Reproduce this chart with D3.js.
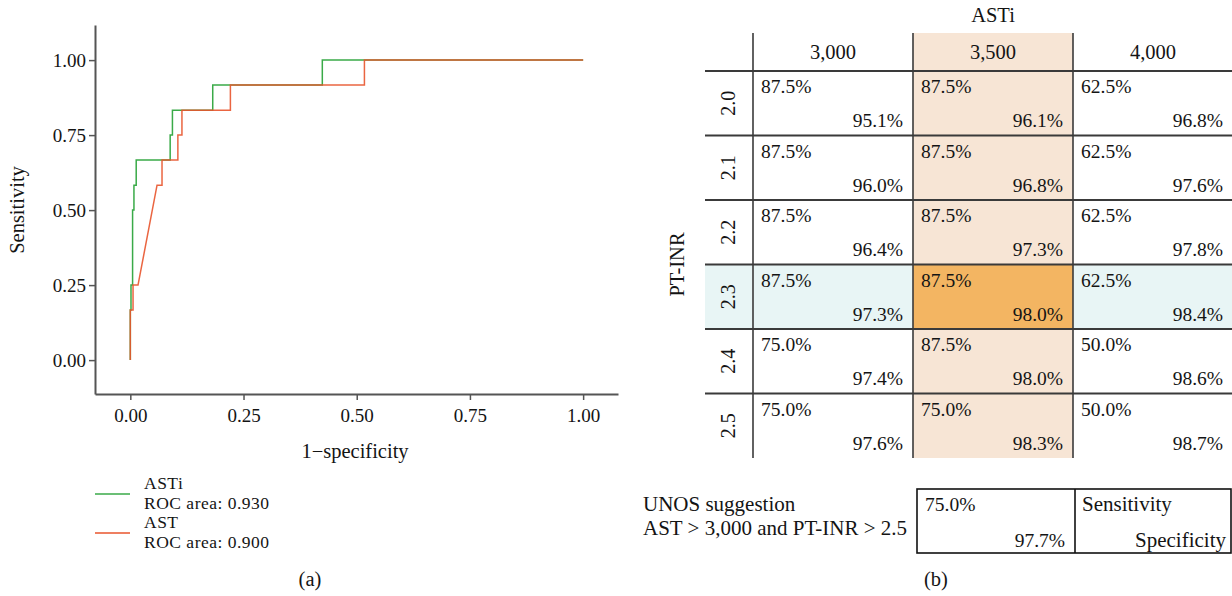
<!DOCTYPE html>
<html>
<head>
<meta charset="utf-8">
<script src="https://cdn.jsdelivr.net/npm/d3@7"></script>
<style>
  body { margin: 0; background: #fff; }
  svg { display: block; font-family: "Liberation Serif", "DejaVu Serif", serif; }
</style>
</head>
<body>
<svg id="chart" width="1232" height="596"></svg>
<script>
// (a) ROC curves
const astiFpr = [0, 0, 0.0015, 0.0015, 0.005, 0.005, 0.008, 0.008, 0.013, 0.013, 0.088, 0.088, 0.093, 0.093, 0.182, 0.182, 0.424, 0.424, 1.0];
const astiTpr = [0, 0.1667, 0.1667, 0.25, 0.25, 0.5, 0.5, 0.583, 0.583, 0.667, 0.667, 0.75, 0.75, 0.833, 0.833, 0.917, 0.917, 1, 1];
const astFpr = [0, 0, 0.006, 0.006, 0.017, 0.059, 0.07, 0.07, 0.105, 0.105, 0.114, 0.114, 0.221, 0.221, 0.517, 0.517, 1.0];
const astTpr = [0, 0.1667, 0.1667, 0.25, 0.25, 0.583, 0.583, 0.667, 0.667, 0.75, 0.75, 0.833, 0.833, 0.917, 0.917, 1, 1];
const axisTicks = [0, 0.25, 0.5, 0.75, 1];
const legendNames = ["ASTi", "AST"];
const legendAreas = ["ROC area: 0.930", "ROC area: 0.900"];

// (b) threshold table
const astiCols = ["3,000", "3,500", "4,000"];
const inrRows = ["2.0", "2.1", "2.2", "2.3", "2.4", "2.5"];
const sensitivity = [
  [87.5, 87.5, 62.5],
  [87.5, 87.5, 62.5],
  [87.5, 87.5, 62.5],
  [87.5, 87.5, 62.5],
  [75.0, 87.5, 50.0],
  [75.0, 75.0, 50.0]
];
const specificity = [
  [95.1, 96.1, 96.8],
  [96.0, 96.8, 97.6],
  [96.4, 97.3, 97.8],
  [97.3, 98.0, 98.4],
  [97.4, 98.0, 98.6],
  [97.6, 98.3, 98.7]
];
const bestCol = "3,500";
const bestRow = "2.3";
const unosSens = 75.0;
const unosSpec = 97.7;

const svg = d3.select('#chart');
const green = '#3aaa48';
const red = '#e8542c';
const lineDark = '#3a3a3a';
const ink = '#141414';

// ---------- panel (a) ----------
const x = d3.scaleLinear().domain([-0.078, 1.077]).range([95, 618]);
const y = d3.scaleLinear().domain([-0.113, 1.117]).range([394, 25]);

const gx = svg.append('g')
  .attr('transform', 'translate(0,394)')
  .call(d3.axisBottom(x).tickValues(axisTicks).tickFormat(d3.format('.2f')).tickSize(6).tickSizeOuter(0));
const gy = svg.append('g')
  .attr('transform', 'translate(95,0)')
  .call(d3.axisLeft(y).tickValues(axisTicks).tickFormat(d3.format('.2f')).tickSize(6).tickSizeOuter(0));

[gx, gy].forEach(g => {
  g.select('.domain').attr('stroke', '#555').attr('stroke-width', 2);
  g.selectAll('.tick line').attr('stroke', '#555').attr('stroke-width', 1.5);
  g.selectAll('.tick text')
    .attr('fill', ink)
    .style('font-family', '"Liberation Serif", serif')
    .style('font-size', '19px');
});
gx.selectAll('.tick text').attr('dy', '1.0em');
gy.selectAll('.tick text').attr('x', -9);

const line = d3.line().x(d => x(d[0])).y(d => y(d[1]));
const astiPts = astiFpr.map((f, i) => [f, astiTpr[i]]);
const astPts = astFpr.map((f, i) => [f, astTpr[i]]);

svg.append('path')
  .attr('d', line(astiPts))
  .attr('fill', 'none')
  .attr('stroke', green)
  .attr('stroke-width', 1.5);
svg.append('path')
  .attr('d', line(astPts))
  .attr('fill', 'none')
  .attr('stroke', red)
  .attr('stroke-opacity', 0.9)
  .attr('stroke-width', 1.5);

svg.append('text')
  .attr('x', 355).attr('y', 458)
  .attr('text-anchor', 'middle')
  .style('font-size', '20.5px')
  .attr('fill', ink)
  .text('1\u2212specificity');
svg.append('text')
  .attr('transform', 'translate(24,210) rotate(-90)')
  .attr('text-anchor', 'middle')
  .style('font-size', '20.5px')
  .attr('fill', ink)
  .text('Sensitivity');

// legend: tight leading like the original
const legendColors = [green, red];
const legendStep = 19.5;
legendNames.forEach((name, i) => {
  const base = 489 + i * 2 * legendStep;
  svg.append('line')
    .attr('x1', 95).attr('x2', 130)
    .attr('y1', base + 5).attr('y2', base + 5)
    .attr('stroke', legendColors[i]).attr('stroke-width', 1.5);
  svg.append('text').attr('x', 144).attr('y', base)
    .style('font-size', '17.5px').style('letter-spacing', '0.5px')
    .attr('fill', ink).text(name);
  svg.append('text').attr('x', 144).attr('y', base + legendStep)
    .style('font-size', '17.5px').style('letter-spacing', '0.5px')
    .attr('fill', ink).text(legendAreas[i]);
});

svg.append('text')
  .attr('x', 310).attr('y', 586)
  .attr('text-anchor', 'middle')
  .style('font-size', '20.5px')
  .attr('fill', ink)
  .text('(a)');

// ---------- panel (b) ----------
const colX = d3.scaleBand().domain(astiCols).range([753, 1233]);
const rowY = d3.scaleBand().domain(inrRows).range([71, 458]);
const tableLeft = 705;
const tableRight = 1232;
const headTop = 33;

// highlighted column and row
svg.append('rect')
  .attr('x', colX(bestCol)).attr('y', headTop)
  .attr('width', colX.bandwidth()).attr('height', 458 - headTop)
  .attr('fill', '#f7e5d5');
svg.append('rect')
  .attr('x', tableLeft).attr('y', rowY(bestRow))
  .attr('width', tableRight - tableLeft).attr('height', rowY.bandwidth())
  .attr('fill', '#e8f5f5');
svg.append('rect')
  .attr('x', colX(bestCol)).attr('y', rowY(bestRow))
  .attr('width', colX.bandwidth()).attr('height', rowY.bandwidth())
  .attr('fill', '#f3b562');

// grid lines
inrRows.forEach(r => {
  svg.append('line')
    .attr('x1', tableLeft).attr('x2', tableRight)
    .attr('y1', rowY(r)).attr('y2', rowY(r))
    .attr('stroke', lineDark).attr('stroke-width', 2);
});
astiCols.forEach(c => {
  svg.append('line')
    .attr('x1', colX(c)).attr('x2', colX(c))
    .attr('y1', headTop).attr('y2', 458)
    .attr('stroke', lineDark).attr('stroke-width', 1.6);
});

// headers
svg.append('text')
  .attr('x', colX(bestCol) + colX.bandwidth() / 2).attr('y', 22)
  .attr('text-anchor', 'middle').style('font-size', '20.5px').attr('fill', ink)
  .text('ASTi');
astiCols.forEach(c => {
  svg.append('text')
    .attr('x', colX(c) + colX.bandwidth() / 2).attr('y', 59)
    .attr('text-anchor', 'middle').style('font-size', '20.5px').attr('fill', ink)
    .text(c);
});
inrRows.forEach(r => {
  const cy = rowY(r) + rowY.bandwidth() / 2;
  svg.append('text')
    .attr('transform', `translate(735,${cy}) rotate(-90)`)
    .attr('text-anchor', 'middle').style('font-size', '20px').attr('fill', ink)
    .text(r);
});
svg.append('text')
  .attr('transform', `translate(684,${(71 + 458) / 2}) rotate(-90)`)
  .attr('text-anchor', 'middle').style('font-size', '20.5px').attr('fill', ink)
  .text('PT-INR');

// cells
const pct = d3.format('.1f');
inrRows.forEach((r, i) => {
  astiCols.forEach((c, j) => {
    svg.append('text')
      .attr('x', colX(c) + 8).attr('y', rowY(r) + 22)
      .style('font-size', '19.5px').attr('fill', ink)
      .text(pct(sensitivity[i][j]) + '%');
    svg.append('text')
      .attr('x', colX(c) + colX.bandwidth() - 10).attr('y', rowY(r) + 56)
      .attr('text-anchor', 'end')
      .style('font-size', '19.5px').attr('fill', ink)
      .text(pct(specificity[i][j]) + '%');
  });
});

// UNOS box
const boxL = 917, boxM = 1075, boxR = 1231, boxT = 489, boxB = 553;
svg.append('rect')
  .attr('x', boxL).attr('y', boxT)
  .attr('width', boxR - boxL).attr('height', boxB - boxT)
  .attr('fill', 'none').attr('stroke', '#111').attr('stroke-width', 1.6);
svg.append('line')
  .attr('x1', boxM).attr('x2', boxM).attr('y1', boxT).attr('y2', boxB)
  .attr('stroke', '#111').attr('stroke-width', 1.6);
const unosText = svg.append('text').attr('x', 643).attr('y', 511).style('font-size', '21px').attr('fill', ink);
unosText.append('tspan').attr('x', 643).text('UNOS suggestion');
unosText.append('tspan').attr('x', 643).attr('dy', 24).text('AST > 3,000 and PT-INR > 2.5');
svg.append('text').attr('x', boxL + 8).attr('y', 511).style('font-size', '19.5px').attr('fill', ink).text(pct(unosSens) + '%');
svg.append('text').attr('x', boxM - 10).attr('y', 547).attr('text-anchor', 'end').style('font-size', '19.5px').attr('fill', ink).text(pct(unosSpec) + '%');
svg.append('text').attr('x', boxM + 7).attr('y', 511).style('font-size', '21px').attr('fill', ink).text('Sensitivity');
svg.append('text').attr('x', boxR - 5).attr('y', 547).attr('text-anchor', 'end').style('font-size', '21px').attr('fill', ink).text('Specificity');

svg.append('text')
  .attr('x', 936).attr('y', 586)
  .attr('text-anchor', 'middle')
  .style('font-size', '20.5px')
  .attr('fill', ink)
  .text('(b)');
</script>
</body>
</html>
